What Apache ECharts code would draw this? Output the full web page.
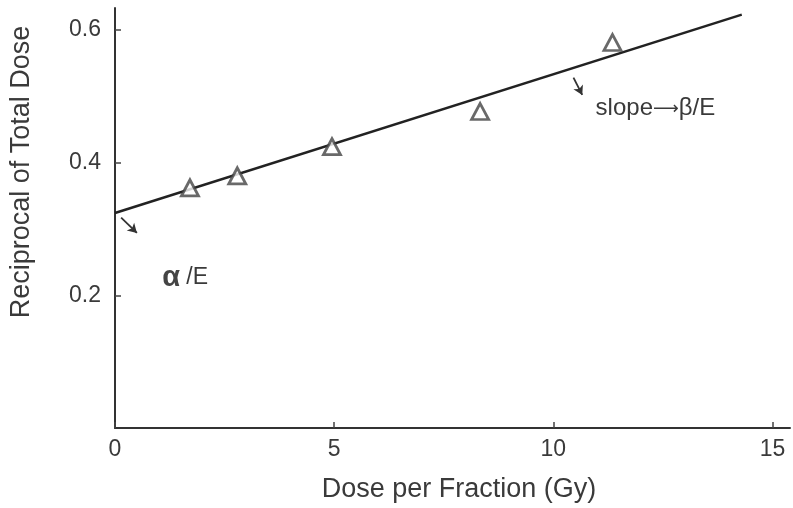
<!DOCTYPE html>
<html>
<head>
<meta charset="utf-8">
<script src="https://cdn.jsdelivr.net/npm/echarts@6/dist/echarts.min.js"></script>
<style>html,body{margin:0;padding:0;background:#fff}#c{width:793px;height:508px}</style>
</head>
<body>
<div id="c"></div>
<script>
// Data
var doseX = [1.71, 2.79, 4.95, 8.33, 11.35];
var recipY = [0.362, 0.380, 0.424, 0.477, 0.581];
var fitX = [0, 14.3];
var fitY = [0.324, 0.623];
var xTicks = [0, 5, 10, 15];
var yTicks = [0.2, 0.4, 0.6];
var xTitle = 'Dose per Fraction (Gy)';
var yTitle = 'Reciprocal of Total Dose';
// annotations in data coordinates
var arrowAlpha = [[0.14, 0.317], [0.50, 0.294]];
var arrowSlope = [[10.46, 0.528], [10.66, 0.502]];
var alphaLabelAt = [1.6, 0.226];
var slopeLabelAt = [12.33, 0.481];

var FONT = '"Liberation Sans", Arial, sans-serif';
var TXT = '#3a3a3a';
var chart = echarts.init(document.getElementById('c'), null, {renderer: 'canvas'});
var arrowStyle = {color: '#333', width: 1.8, type: 'solid'};
chart.setOption({
  animation: false,
  grid: {left: 115, right: 3, top: 8, bottom: 80, containLabel: false},
  xAxis: {
    type: 'value', min: 0, max: 15.4, interval: 5,
    axisLine: {show: true, onZero: false, lineStyle: {color: '#333', width: 2}},
    axisTick: {show: true, inside: true, length: 6, customValues: xTicks, lineStyle: {color: '#444', width: 1.5}},
    axisLabel: {customValues: xTicks, margin: 10, fontFamily: FONT, fontSize: 23, color: TXT},
    splitLine: {show: false}
  },
  yAxis: {
    type: 'value', min: 0, max: 0.633, interval: 0.2,
    axisLine: {show: true, onZero: false, lineStyle: {color: '#333', width: 2}},
    axisTick: {show: true, inside: true, length: 6, customValues: yTicks, lineStyle: {color: '#444', width: 1.5}},
    axisLabel: {customValues: yTicks, margin: 14, fontFamily: FONT, fontSize: 23, color: TXT,
      formatter: function (v) { return v.toFixed(1); }},
    splitLine: {show: false}
  },
  series: [
    {
      type: 'line', data: fitX.map(function (x, i) { return [x, fitY[i]]; }),
      symbol: 'none', lineStyle: {color: '#222', width: 2.5}, z: 2,
      markLine: {
        silent: true, symbol: ['none', 'arrow'], symbolSize: [8, 9],
        lineStyle: arrowStyle, label: {show: false},
        data: [
          [{coord: arrowAlpha[0]}, {coord: arrowAlpha[1]}],
          [{coord: arrowSlope[0]}, {coord: arrowSlope[1]}]
        ]
      }
    },
    {
      type: 'scatter', data: doseX.map(function (x, i) { return [x, recipY[i]]; }),
      symbol: 'triangle', symbolSize: [17, 16],
      itemStyle: {color: '#fff', borderColor: '#444', borderWidth: 2.8}, z: 5
    }
  ]
});

function px(p) { return chart.convertToPixel({gridIndex: 0}, p); }
var a = px(alphaLabelAt), s = px(slopeLabelAt);
chart.setOption({
  graphic: [
    {type: 'text', x: 22, y: 172, rotation: Math.PI / 2,
      style: {text: yTitle, font: '27px ' + FONT, fill: TXT, textAlign: 'center', textVerticalAlign: 'middle'}},
    {type: 'text', x: 459, y: 490,
      style: {text: xTitle, font: '27px ' + FONT, fill: TXT, textAlign: 'center', textVerticalAlign: 'middle'}},
    {type: 'text', x: a[0], y: a[1],
      style: {text: '{a|α} /E', fill: TXT, textAlign: 'center', textVerticalAlign: 'middle',
        font: '23px ' + FONT,
        rich: {a: {fontFamily: FONT, fontSize: 29, fontWeight: 'bold', fill: '#444'}}}},
    {type: 'text', x: s[0], y: s[1],
      style: {text: 'slope{r|\u27f6}\u03b2/E', font: '24px ' + FONT, fill: TXT, textAlign: 'center', textVerticalAlign: 'middle',
        rich: {r: {fontFamily: '"DejaVu Sans", sans-serif', fontSize: 18, fill: TXT}}}}
  ]
});
</script>
</body>
</html>
